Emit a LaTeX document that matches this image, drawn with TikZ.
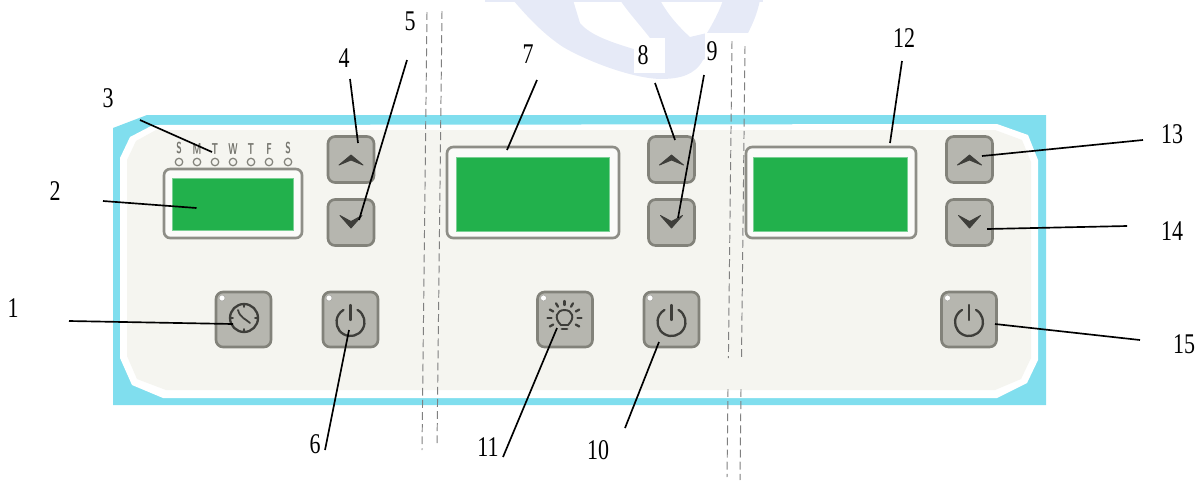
\documentclass[tikz,border=0pt]{standalone}
\usepackage{fontspec}
\setmainfont{Liberation Serif}
\usepackage{tikz}
\usetikzlibrary{calc, positioning}
\definecolor{panelblue}{RGB}{128, 222, 238}
\definecolor{panelface}{RGB}{245, 245, 240}
\definecolor{keygray}{RGB}{182, 182, 175}
\definecolor{keyedge}{RGB}{130, 130, 122}
\definecolor{icondark}{RGB}{62, 62, 58}
\definecolor{lcdgreen}{RGB}{34, 177, 76}
\definecolor{markpale}{RGB}{230, 234, 247}
\tikzset{
  keybtn/.style={draw=keyedge, fill=keygray, line width=1.5pt, rounded corners=4pt, inner sep=0pt, minimum width=0.92cm, minimum height=0.92cm},
  keybig/.style={keybtn, minimum width=1.1cm, minimum height=1.1cm},
  frame/.style={draw=keyedge!90!white, fill=white!60!panelface, line width=1.5pt, rounded corners=3.5pt, inner sep=0pt},
  lcd/.style={fill=lcdgreen, draw=lcdgreen!60!white, line width=0.4pt, inner sep=0pt},
  leader/.style={draw=black, line width=0.95pt},
  cutline/.style={draw=gray, line width=0.55pt, dash pattern=on 4.5pt off 2.4pt},
  numlbl/.style={font=\fontsize{12.5}{14}\selectfont, inner sep=1pt},
  icon/.style={draw=icondark, line width=1.3pt, line cap=round},
  chevron/.style={fill=icondark, draw=icondark, line width=0.5pt, line join=round},
}
\newcommand{\tallnum}[1]{\scalebox{1}[1.3]{#1}}
\newcommand{\tallday}[1]{\scalebox{0.85}[1.5]{#1}}
% icons of the keys, #1 is the key
\newcommand{\upmark}[1]{\path[chevron] ($(#1)+(-12,5.5)$) -- ($(#1)+(0,-4.5)$) -- ($(#1)+(12,5.5)$) -- ($(#1)+(0,0.5)$) -- cycle;}
\newcommand{\downmark}[1]{\path[chevron] ($(#1)+(-11,-7)$) -- ($(#1)+(0,-1)$) -- ($(#1)+(11,-7)$) -- ($(#1)+(0,5.5)$) -- cycle;}
\newcommand{\powermark}[1]{
  \draw[icon] ($(#1)+(7,-9.6)$) arc[start angle=-60, end angle=240, radius=14];
  \draw[icon] ($(#1)+(0,-14.5)$) -- ($(#1)+(0,0.5)$);
}
\newcommand{\ledmark}[1]{\fill[white, draw=keyedge!70!white, line width=0.3pt] ($(#1)+(-21.5,-21.5)$) circle[radius=3];}

\begin{document}
\begin{tikzpicture}[x=0.02cm, y=-0.02cm]
  \useasboundingbox (0,0) rectangle (1202,481);

  % pale mark at the top
  \fill[markpale] (513,0) .. controls (530,20) and (545,35) .. (563,47) .. controls (585,60) and (630,78) .. (660,79) .. controls (680,79) and (695,75) .. (703,60) -- (748,33) .. controls (752,25) and (757,15) .. (760,0) -- (723,0) .. controls (720,10) and (712,25) .. (707,33) -- (690,37) .. controls (680,28) and (668,15) .. (660,0) -- (620,0) .. controls (628,12) and (640,25) .. (650,38) -- (637,50) .. controls (610,42) and (590,35) .. (580,23) -- (573,0) -- cycle;
  \fill[markpale] (485,0) rectangle (763,2);
  \fill[white] (705,33) rectangle (750,60);

  % panel
  \fill[panelblue] (147,115) -- (1046,115) -- (1046,405) -- (113,405) -- (113,128) -- cycle;
  \fill[white] (153,125) -- (997,124) -- (1028,135) -- (1038,160) -- (1038,360) -- (1027,383) -- (997,398) -- (163,398) -- (132,385) -- (120,358) -- (120,158) -- (130,137) -- cycle;
  \fill[panelface] (156,130) -- (995,130) -- (1022,140) -- (1031,162) -- (1031,358) -- (1021,379) -- (995,390) -- (166,390) -- (137,379) -- (127,356) -- (127,160) -- (136,141) -- cycle;

  % displays
  \node[frame, minimum width=2.76cm, minimum height=1.38cm] (scrA) at (233,203.5) {};
  \node[lcd, minimum width=2.42cm, minimum height=1.04cm] (lcdA) at (232.5,204) {};
  \node[frame, minimum width=3.44cm, minimum height=1.82cm] (scrB) at (533,192.5) {};
  \node[lcd, minimum width=3.06cm, minimum height=1.48cm] (lcdB) at (532.5,194) {};
  \node[frame, minimum width=3.4cm, minimum height=1.82cm] (scrC) at (831,192.5) {};
  \node[lcd, minimum width=3.08cm, minimum height=1.48cm] (lcdC) at (830,194) {};

  % days and their lamps
  \foreach \n/\x/\d in {1/179/S, 2/197/M, 3/215/T, 4/233/W, 5/251/T, 6/269/F, 7/288/S} {
    \node[circle, draw=keyedge, fill=panelface, line width=0.7pt, minimum size=0.15cm, inner sep=0pt] (led\n) at (\x,162) {};
    \node[font=\fontsize{6}{7}\sffamily\bfseries, text=keyedge!90!black, inner sep=0pt, above=1.8pt of led\n] (day\n) {\tallday{\d}};
  }

  % keys
  \foreach \name/\x/\y in {keyUpA/351/159.5, keyDownA/351/222.5, keyUpB/671.5/159.5, keyDownB/671.5/222.5, keyUpC/969.5/159.5, keyDownC/969.5/222.5}
    \node[keybtn] (\name) at (\x,\y) {};
  \foreach \name/\x in {keyClock/243.5, keyPowA/350.5, keyBulb/565, keyPowB/671.5, keyPowC/969}
    \node[keybig] (\name) at (\x,319.5) {};

  \foreach \name in {keyUpA, keyUpB, keyUpC} {\upmark{\name}}
  \foreach \name in {keyDownA, keyDownB, keyDownC} {\downmark{\name}}
  \foreach \name in {keyPowA, keyPowB, keyPowC} {\powermark{\name}}
  \foreach \name in {keyClock, keyPowA, keyBulb, keyPowB, keyPowC} {\ledmark{\name}}

  % clock
  \coordinate (clockMid) at ($(keyClock)+(0.5,-1.5)$);
  \draw[icon] (clockMid) circle[radius=14];
  \draw[icon, line width=1pt] ($(clockMid)+(-6,-8)$) .. controls ($(clockMid)+(-4,0)$) and ($(clockMid)+(2,1)$) .. ($(clockMid)+(6,5)$);
  \foreach \a in {0, 90, 180, 270}
    \draw[icon, line width=1pt] ($(clockMid)+(\a:11)$) -- ($(clockMid)+(\a:14)$);

  % bulb
  \coordinate (bulbMid) at ($(keyBulb)+(-0.5,-1.5)$);
  \draw[icon, line width=1.1pt] ($(bulbMid)+(-3.5,7)$) .. controls ($(bulbMid)+(-11,0)$) and ($(bulbMid)+(-8,-8)$) .. ($(bulbMid)+(0,-8)$) .. controls ($(bulbMid)+(8,-8)$) and ($(bulbMid)+(11,0)$) .. ($(bulbMid)+(3.5,7)$) -- cycle;
  \draw[icon, line width=1.6pt] ($(bulbMid)+(-2.5,11)$) -- ($(bulbMid)+(2.5,11)$);
  \foreach \a in {150, 180, 210, 240, 270, 300, 330, 0, 30}
    \draw[icon] ($(bulbMid)+(\a:13)$) -- ($(bulbMid)+(\a:17)$);

  % cut lines
  \draw[cutline] (427,12) -- (422,450);
  \draw[cutline] (442,11) -- (437,447);
  \draw[cutline] (732,41) -- (728.4,358);
  \draw[cutline] (728,389) -- (727,477);
  \draw[cutline] (745,46) -- (741.5,358);
  \draw[cutline] (741,389) -- (740,480);

  % numbers
  \foreach \n/\x/\y in {1/13/308, 2/55/191, 3/108/98, 4/344/58, 5/410/21, 6/315/444, 7/528/54, 9/712/51, 10/598/450, 11/488/447, 12/904/38, 13/1172/134, 14/1172/231, 15/1184/344}
    \node[numlbl] (lbl\n) at (\x,\y) {\tallnum{\n}};
  \node[numlbl, fill=white, minimum width=0.62cm, minimum height=0.7cm] (lbl8) at (649,55) {\hspace*{-0.24cm}\tallnum{8}};

  % free ends of the leaders
  \foreach \n/\x/\y in {1/69/321, 2/103/201, 3/140/120, 4/350/79, 5/407/60, 6/325/450, 7/537/80, 8/655/83, 9/704/75, 10/625/428, 11/503/457, 12/902/61, 13/1143/140, 14/1127/226, 15/1140/340}
    \coordinate (tail\n) at (\x,\y);

  \draw[leader] (tail1) -- ($(keyClock)+(-10.5,4.5)$);
  \draw[leader] (tail2) -- ($(lcdA)+(-36,4)$);
  \draw[leader] (tail3) -- ($(led3)+(-3,-10)$);
  \draw[leader] (tail4) -- ($(keyUpA)+(7,-16.5)$);
  \draw[leader] (tail5) -- ($(keyDownA)+(8,-2.5)$);
  \draw[leader] (tail6) -- ($(keyPowA)+(-1.5,10.5)$);
  \draw[leader] (tail7) -- ($(scrB)+(-26,-42.5)$);
  \draw[leader] (tail8) -- ($(keyUpB)+(3.5,-19.5)$);
  \draw[leader] (tail9) -- ($(keyDownB)+(6.5,-4.5)$);
  \draw[leader] (tail10) -- ($(keyPowB)+(-12.5,22.5)$);
  \draw[leader] (tail11) -- ($(keyBulb)+(-8,8.5)$);
  \draw[leader] (tail12) -- ($(scrC)+(59,-49.5)$);
  \draw[leader] (tail13) -- ($(keyUpC)+(12.5,-3.5)$);
  \draw[leader] (tail14) -- ($(keyDownC)+(17.5,6.5)$);
  \draw[leader] (tail15) -- ($(keyPowC)+(26,4.5)$);
\end{tikzpicture}
\end{document}
